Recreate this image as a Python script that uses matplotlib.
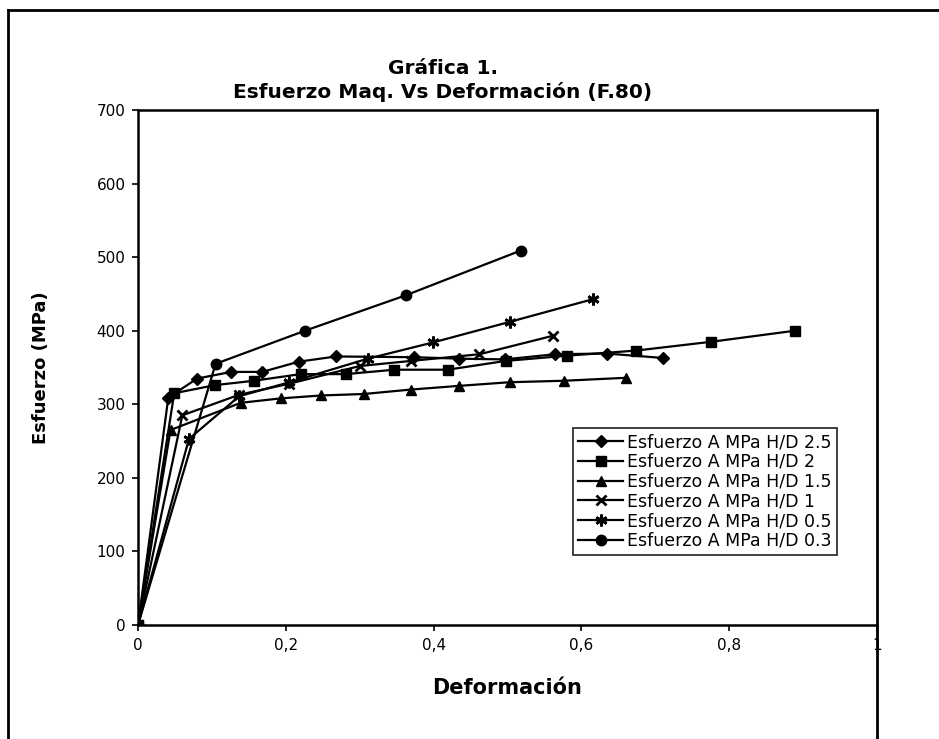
import matplotlib
matplotlib.use('Agg')
import matplotlib.pyplot as plt
from matplotlib.lines import Line2D

plt.rcParams['font.family'] = ['DejaVu Sans']

# datos
x_25 = [0, 0.041, 0.080, 0.126, 0.168, 0.218, 0.268, 0.374, 0.435, 0.496, 0.564, 0.634, 0.710]
y_25 = [0, 309, 335, 344, 344, 358, 365, 364, 362, 361, 368, 369, 363]

x_2 = [0, 0.049, 0.104, 0.157, 0.220, 0.281, 0.347, 0.419, 0.498, 0.580, 0.674, 0.776, 0.889]
y_2 = [0, 315, 326, 332, 341, 341, 347, 347, 359, 366, 373, 385, 400]

x_15 = [0, 0.044, 0.139, 0.193, 0.248, 0.306, 0.369, 0.434, 0.503, 0.577, 0.660]
y_15 = [0, 265, 302, 308, 312, 314, 320, 325, 330, 332, 336]

x_1 = [0, 0.060, 0.137, 0.205, 0.300, 0.370, 0.462, 0.561]
y_1 = [0, 285, 313, 328, 352, 359, 368, 393]

x_05 = [0, 0.069, 0.137, 0.205, 0.311, 0.399, 0.503, 0.616]
y_05 = [0, 253, 311, 330, 362, 384, 412, 443]

x_03 = [0, 0.105, 0.226, 0.362, 0.518]
y_03 = [0, 355, 400, 448, 509]

etiquetas = ['Esfuerzo A MPa H/D 2.5', 'Esfuerzo A MPa H/D 2', 'Esfuerzo A MPa H/D 1.5',
             'Esfuerzo A MPa H/D 1', 'Esfuerzo A MPa H/D 0.5', 'Esfuerzo A MPa H/D 0.3']
xticks = [0, 0.2, 0.4, 0.6, 0.8, 1]
xtick_labels = ['0', '0,2', '0,4', '0,6', '0,8', '1']

W, H = 939, 739
fig = plt.figure(figsize=(W/100, H/100), dpi=100)
ax = fig.add_axes([138/W, 1 - 625/H, (877-138)/W, (625-110)/H])

ax.plot(x_25, y_25, color='black', lw=1.6, marker='D', ms=6, label=etiquetas[0])
ax.plot(x_2, y_2, color='black', lw=1.6, marker='s', ms=6.5, label=etiquetas[1])
ax.plot(x_15, y_15, color='black', lw=1.6, marker='^', ms=7.5, label=etiquetas[2])
ax.plot(x_1, y_1, color='black', lw=1.6, marker='x', ms=7.5, mew=2, label=etiquetas[3])
ax.plot(x_05, y_05, color='black', lw=1.6, marker=(6, 2, 0), ms=8.5, mew=2, label=etiquetas[4])
ax.plot(x_03, y_03, color='black', lw=1.6, marker='o', ms=7.5, label=etiquetas[5])

ax.set_xlim(0, 1)
ax.set_ylim(0, 700)
ax.set_xticks(xticks)
ax.set_xticklabels(xtick_labels)
ax.set_yticks(range(0, 701, 100))
ax.tick_params(labelsize=11, length=4, direction='out', width=1.2, pad=5)
for s in ['left', 'bottom', 'top']:
    ax.spines[s].set_linewidth(1.8)
ax.spines['right'].set_visible(False)

ax.set_xlabel('Deformación', fontsize=15, fontweight='bold')
ax.xaxis.set_label_coords(0.5, -(678-625)/(625-110))
ax.set_ylabel('Esfuerzo (MPa)', fontsize=13, fontweight='bold')
ax.yaxis.set_label_coords(-(138-50)/(877-138), 0.5)

fig.text(443/W, 1 - 68/H, 'Gráfica 1.', ha='center', va='center', fontsize=14.5, fontweight='bold')
fig.text(443/W, 1 - 92/H, 'Esfuerzo Maq. Vs Deformación (F.80)', ha='center', va='center',
         fontsize=14.5, fontweight='bold')

leg = ax.legend(loc='upper left', bbox_to_anchor=((573-138)/(877-138), (625-428)/(625-110)),
                fontsize=12.5, frameon=True, fancybox=False, edgecolor='black',
                handlelength=2.6, labelspacing=0.1, borderpad=0.3, handletextpad=0.2,
                borderaxespad=0)
leg.get_frame().set_linewidth(1.3)

# marco exterior del grafico (recortado a la derecha y abajo)
fig.add_artist(Line2D([8/W, 1], [1 - 10/H, 1 - 10/H], color='black', lw=2, transform=fig.transFigure))
fig.add_artist(Line2D([8/W, 8/W], [0, 1 - 10/H], color='black', lw=2, transform=fig.transFigure))
fig.add_artist(Line2D([877/W, 877/W], [0, 1 - 110/H], color='black', lw=2, transform=fig.transFigure))

fig.savefig('out.png', dpi=100)
